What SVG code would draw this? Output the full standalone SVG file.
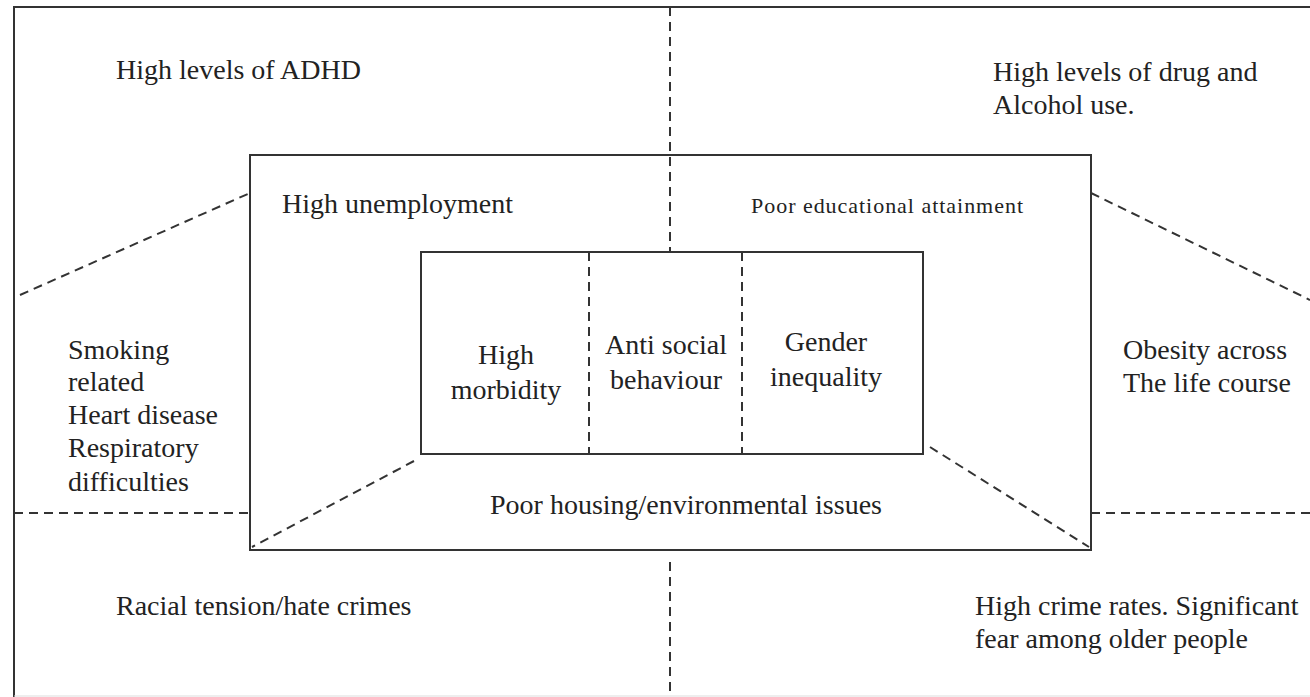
<svg xmlns="http://www.w3.org/2000/svg" width="1310" height="697" viewBox="0 0 1310 697">
<style>
text{font-family:'Liberation Serif',Tinos,'DejaVu Serif',serif;fill:#222;font-size:28px}
.s{font-size:22px}
.box{fill:none;stroke:#333;stroke-width:2}
.d{fill:none;stroke:#333;stroke-width:2;stroke-dasharray:9,6}
.m{text-anchor:middle}
</style>
<rect width="1310" height="697" fill="#fff"/>
<g id="frame"><path class="box" d="M14,697 V7 H1310"/><path d="M14,696 H1310" stroke="#ddd" stroke-width="1"/></g>
<g id="connectors">
<line class="d" x1="670" y1="7" x2="670" y2="252"/>
<line class="d" x1="670" y1="562" x2="670" y2="697"/>
<line class="d" x1="20" y1="295" x2="250" y2="193"/>
<line class="d" x1="1091" y1="193" x2="1310" y2="300"/>
<line class="d" x1="14" y1="513" x2="250" y2="513"/>
<line class="d" x1="1091" y1="513" x2="1310" y2="513"/>
<line class="d" x1="414" y1="461" x2="252" y2="547"/>
<line class="d" x1="930" y1="447" x2="1089" y2="547"/>
<line class="d" x1="589" y1="252" x2="589" y2="454"/>
<line class="d" x1="742" y1="252" x2="742" y2="454"/>
</g>
<g id="middle-box"><rect class="box" x="250" y="155" width="841" height="395"/>
<text x="282" y="213">High unemployment</text>
<text class="s" x="751" y="213" textLength="272" lengthAdjust="spacing">Poor educational attainment</text>
<text x="490" y="514">Poor housing/environmental issues</text></g>
<g id="inner-box"><rect class="box" x="421" y="252" width="502" height="202"/></g>
<g id="high-morbidity"><text class="m" x="506" y="364">High</text><text class="m" x="506" y="399">morbidity</text></g>
<g id="anti-social"><text class="m" x="666" y="354">Anti social</text><text class="m" x="666" y="389">behaviour</text></g>
<g id="gender"><text class="m" x="826" y="351">Gender</text><text class="m" x="826" y="386">inequality</text></g>
<g id="adhd"><text x="116" y="79">High levels of ADHD</text></g>
<g id="drug"><text x="993" y="81">High levels of drug and</text><text x="993" y="114">Alcohol use.</text></g>
<g id="smoking"><text x="68" y="359">Smoking</text><text x="68" y="391">related</text><text x="68" y="424">Heart disease</text><text x="68" y="457">Respiratory</text><text x="68" y="491">difficulties</text></g>
<g id="obesity"><text x="1123" y="359">Obesity across</text><text x="1123" y="392">The life course</text></g>
<g id="racial"><text x="116" y="615">Racial tension/hate crimes</text></g>
<g id="crime"><text x="975" y="615">High crime rates. Significant</text><text x="975" y="648">fear among older people</text></g>
</svg>
